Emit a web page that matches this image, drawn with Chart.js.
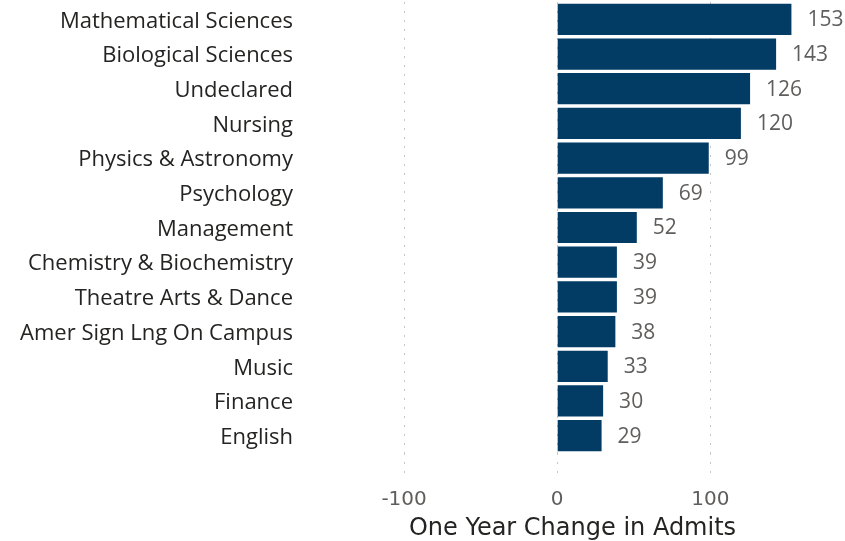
<!DOCTYPE html>
<html>
<head>
<meta charset="utf-8">
<script src="https://cdn.jsdelivr.net/npm/chart.js@4"></script>
<style>
  html, body { margin: 0; padding: 0; background: #ffffff; }
  #wrap { width: 845px; height: 541px; position: relative; }
</style>
</head>
<body>
<div id="wrap"><canvas id="admitsChart"></canvas></div>
<script>
// Data
const departments = [
  'Mathematical Sciences', 'Biological Sciences', 'Undeclared', 'Nursing',
  'Physics & Astronomy', 'Psychology', 'Management', 'Chemistry & Biochemistry',
  'Theatre Arts & Dance', 'Amer Sign Lng On Campus', 'Music', 'Finance', 'English'
];
const admitChange = [153, 143, 126, 120, 99, 69, 52, 39, 39, 38, 33, 30, 29];
const xTickValues = [-100, 0, 100];

const labelFont = "'Segoe UI', 'Open Sans', sans-serif";
const axisFont = "'DejaVu Sans', sans-serif";

// value labels at the end of each bar
const barValueLabels = {
  id: 'barValueLabels',
  afterDatasetsDraw(chart) {
    const ctx = chart.ctx;
    const meta = chart.getDatasetMeta(0);
    ctx.save();
    ctx.font = '21px ' + labelFont;
    ctx.fillStyle = '#605e5c';
    ctx.textAlign = 'left';
    ctx.textBaseline = 'middle';
    meta.data.forEach((bar, i) => {
      ctx.fillText(String(admitChange[i]), bar.x + 16, bar.y + 1);
    });
    ctx.restore();
  }
};

const ctx = document.getElementById('admitsChart').getContext('2d');
const admitsChart = new Chart(ctx, {
  type: 'bar',
  data: {
    labels: departments,
    datasets: [{
      data: admitChange,
      backgroundColor: '#023b64',
      borderWidth: 0,
      categoryPercentage: 0.9,
      barPercentage: 1
    }]
  },
  options: {
    indexAxis: 'y',
    responsive: true,
    maintainAspectRatio: false,
    animation: false,
    layout: { padding: { top: 2, right: 0, bottom: 0, left: 0 } },
    plugins: {
      legend: { display: false },
      tooltip: { enabled: false }
    },
    scales: {
      x: {
        min: -168,
        max: 188,
        afterBuildTicks: function(scale) {
          scale.ticks = xTickValues.map(v => ({ value: v }));
        },
        afterFit: function(scale) {
          scale.height = 88;
          scale.paddingLeft = 0;
          scale.paddingRight = 0;
        },
        border: { display: false, dash: [2, 7] },
        grid: {
          color: '#c8c6c4',
          lineWidth: 1,
          drawTicks: true,
          tickLength: 25,
          tickColor: '#c8c6c4',
          tickBorderDash: [2, 7]
        },
        ticks: {
          color: '#605e5c',
          padding: 10,
          font: { family: axisFont, size: 20 }
        },
        title: {
          display: true,
          text: 'One Year Change in Admits',
          color: '#252423',
          padding: { top: 0, bottom: 0 },
          font: { family: axisFont, size: 24, lineHeight: 1 }
        }
      },
      y: {
        afterFit: function(scale) {
          scale.width = 300;
          scale.paddingTop = 0;
          scale.paddingBottom = 0;
        },
        border: { display: false },
        grid: { display: false, drawTicks: false },
        ticks: {
          color: '#252423',
          padding: 7,
          labelOffset: 2,
          font: { family: labelFont, size: 22 }
        }
      }
    }
  },
  plugins: [barValueLabels]
});
</script>
</body>
</html>
